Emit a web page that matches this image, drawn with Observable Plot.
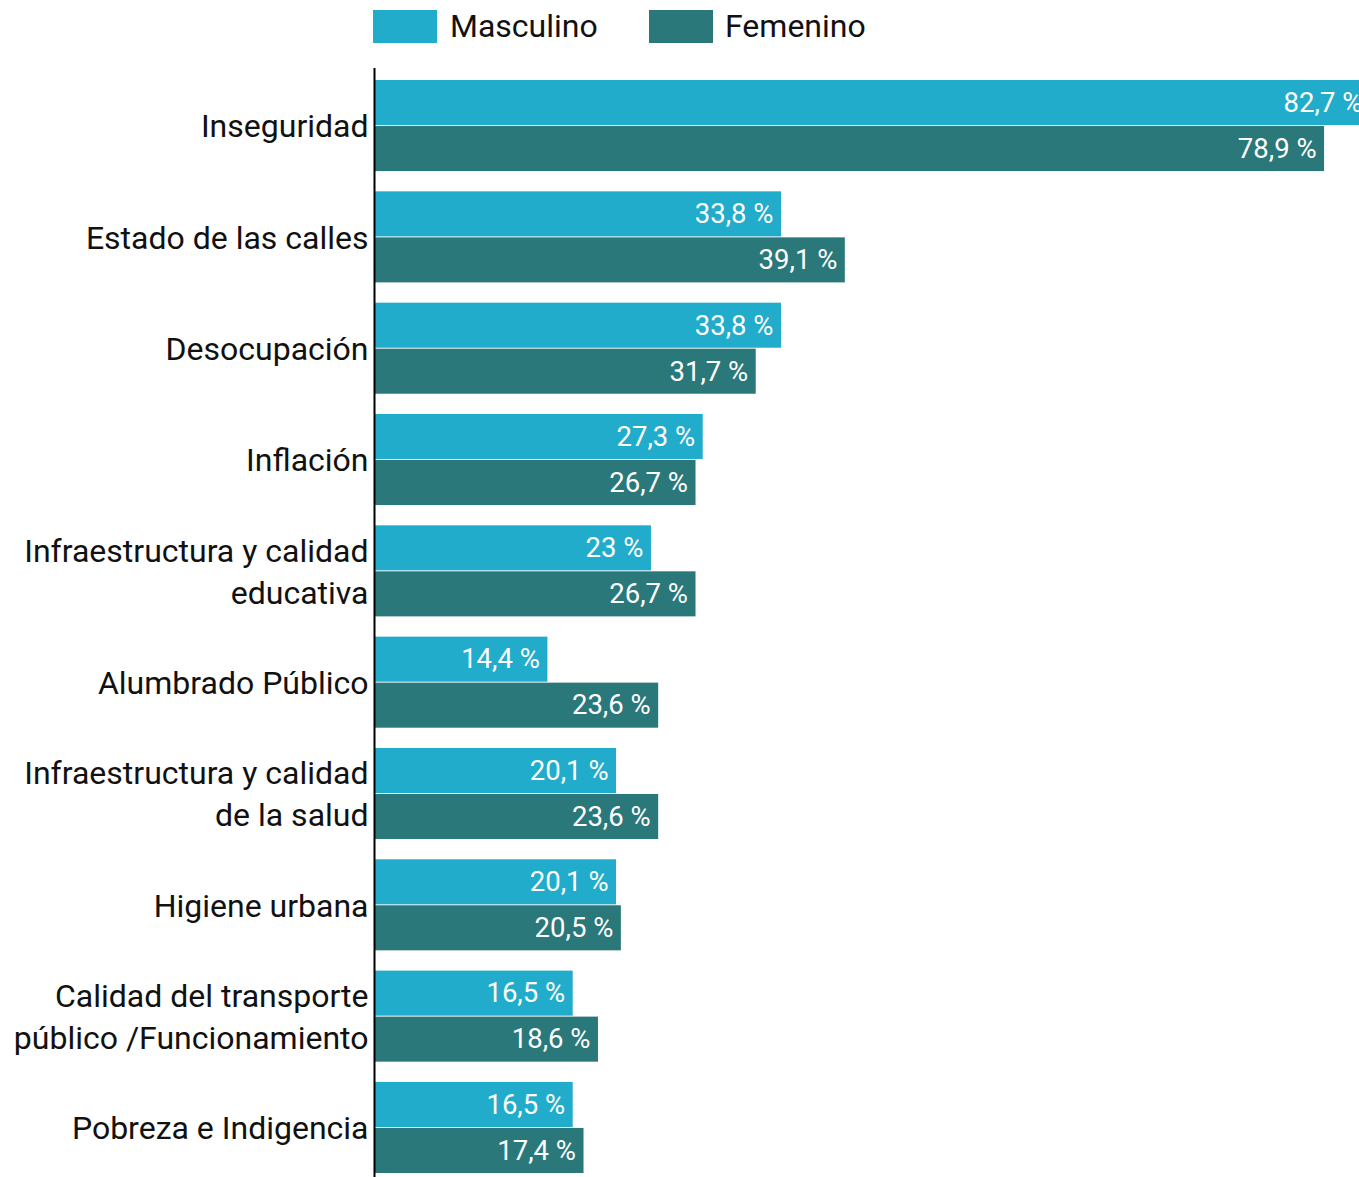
<!DOCTYPE html>
<html>
<head>
<meta charset="utf-8">
<script src="https://cdn.jsdelivr.net/npm/d3@7"></script>
<script src="https://cdn.jsdelivr.net/npm/@observablehq/plot@0.6"></script>
<style>
  html, body { margin: 0; padding: 0; background: #fff; overflow: hidden; }
  body { font-family: Roboto, "Noto Sans", sans-serif; width: 1359px; }
  #legend { position: relative; height: 60px; }
  .sw { position: absolute; top: 10px; width: 64px; height: 33px; }
  .lb { position: absolute; top: 26px; transform: translateY(-50%); font-size: 32px; color: #111; line-height: 1; }
</style>
</head>
<body>
<div id="legend">
  <div class="sw" style="left:373px;background:#22accb"></div>
  <div class="lb" style="left:450px">Masculino</div>
  <div class="sw" style="left:649px;background:#2a787a"></div>
  <div class="lb" style="left:725px">Femenino</div>
</div>
<div id="chart"></div>
<script>
const categories = [
  "Inseguridad",
  "Estado de las calles",
  "Desocupación",
  "Inflación",
  "Infraestructura y calidad educativa",
  "Alumbrado Público",
  "Infraestructura y calidad de la salud",
  "Higiene urbana",
  "Calidad del transporte público /Funcionamiento",
  "Pobreza e Indigencia"
];
const categoryLabels = [
  "Inseguridad",
  "Estado de las calles",
  "Desocupación",
  "Inflación",
  "Infraestructura y calidad\neducativa",
  "Alumbrado Público",
  "Infraestructura y calidad\nde la salud",
  "Higiene urbana",
  "Calidad del transporte\npúblico /Funcionamiento",
  "Pobreza e Indigencia"
];
const series = ["Masculino", "Femenino"];
const masculino = [82.7, 33.8, 33.8, 27.3, 23, 14.4, 20.1, 20.1, 16.5, 16.5];
const femenino = [78.9, 39.1, 31.7, 26.7, 26.7, 23.6, 23.6, 20.5, 18.6, 17.4];

const colors = {Masculino: "#22accb", Femenino: "#2a787a"};
const fmt = v => String(v).replace(".", ",") + " %";

const mData = categories.map((c, i) => ({cat: c, value: masculino[i], sex: series[0]}));
const fData = categories.map((c, i) => ({cat: c, value: femenino[i], sex: series[1]}));
const labelOf = new Map(categories.map((c, i) => [c, categoryLabels[i]]));

const chart = Plot.plot({
  width: 1359,
  height: 1117,
  marginLeft: 374,
  marginRight: 0,
  marginTop: 8,
  marginBottom: 0,
  style: {fontFamily: "Roboto, 'Noto Sans', sans-serif", background: "white"},
  x: {domain: [0, 81.8], axis: null},
  y: {domain: categories, axis: null, paddingInner: 0.182, paddingOuter: 0.072, align: 0.75, round: false},
  marks: [
    Plot.barX(mData, {x: "value", y: "cat", fill: colors.Masculino, insetBottom: 46, clip: true}),
    Plot.barX(fData, {x: "value", y: "cat", fill: colors.Femenino, insetTop: 46, clip: true}),
    Plot.text(mData, {x: "value", y: "cat", text: d => fmt(d.value), textAnchor: "end", dx: -8, dy: -23, fill: "white", fontSize: 27.5, clip: true}),
    Plot.text(fData, {x: "value", y: "cat", text: d => fmt(d.value), textAnchor: "end", dx: -8, dy: 23, fill: "white", fontSize: 27.5, clip: true}),
    Plot.text(categories, {y: d => d, frameAnchor: "left", dx: -6, dy: -2, textAnchor: "end", text: d => labelOf.get(d), fontSize: 32, lineHeight: 1.31, fill: "#111"}),
    Plot.ruleX([0], {stroke: "#000", strokeWidth: 2})
  ]
});
document.getElementById("chart").appendChild(chart);
</script>
</body>
</html>
